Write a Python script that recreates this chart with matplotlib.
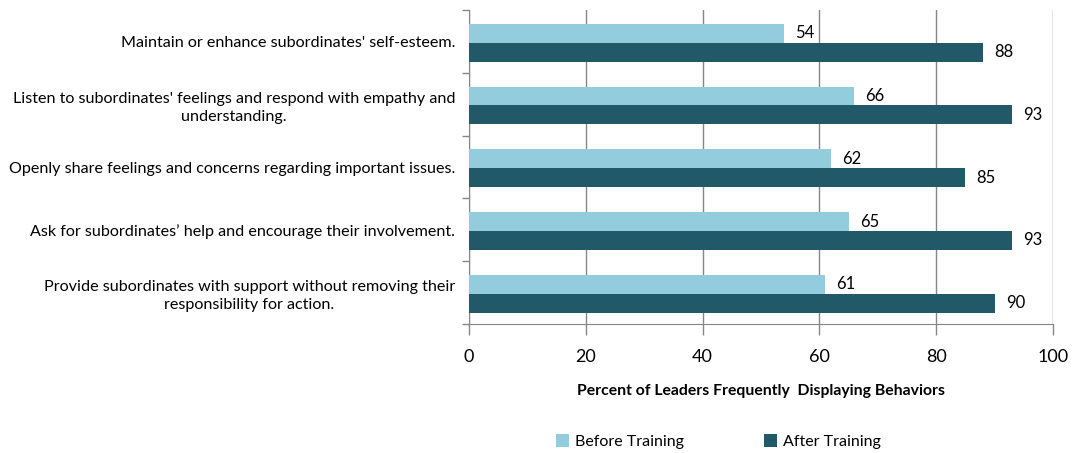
import numpy as np
import matplotlib.pyplot as plt

plt.rcParams['font.family'] = ['Lato', 'DejaVu Sans']

categorias = [
    "Maintain or enhance subordinates' self-esteem.",
    "Listen to subordinates' feelings and respond with empathy and\nunderstanding.",
    "Openly share feelings and concerns regarding important issues.",
    "Ask for subordinates\u2019 help and encourage their involvement.",
    "Provide subordinates with support without removing their\nresponsibility for action.",
]
antes = [54, 66, 62, 65, 61]
despues = [88, 93, 85, 93, 90]
series = ['Before Training', 'After Training']

col_antes = '#93CDDD'
col_despues = '#215968'
col_gris = '#868686'

fig = plt.figure(figsize=(10.82, 4.53), dpi=100)
ax = fig.add_axes([0.4335, 0.2848, 0.5397, 0.693])

y = np.arange(len(categorias))
h = 0.3
b1 = ax.barh(y - h / 2 + 0.02, antes, height=h, color=col_antes, label=series[0], zorder=3)
b2 = ax.barh(y + h / 2 + 0.02, despues, height=h, color=col_despues, label=series[1], zorder=3)

for barras in (b1, b2):
    for bar in barras:
        v = bar.get_width()
        ax.annotate(f'{v:.0f}', (v, bar.get_y() + bar.get_height() / 2),
                    xytext=(8, 0), textcoords='offset points',
                    va='center', ha='left', fontsize=12, color='#000000')

ax.set_xlim(0, 100)
ax.set_ylim(len(categorias) - 0.5, -0.5)
ax.set_xticks([0, 20, 40, 60, 80, 100])
ax.grid(axis='x', color=col_gris, linewidth=1, zorder=0)
ax.set_yticks(y)
ax.set_yticklabels(categorias, fontsize=11.6, ha='right', multialignment='center',
                   linespacing=1.35)
ax.tick_params(axis='y', length=0, pad=10)
ax.set_yticks(np.arange(-0.5, len(categorias)), minor=True)
ax.tick_params(axis='y', which='minor', length=5, color=col_gris, width=1)
ax.tick_params(axis='x', length=8, color=col_gris, width=1, labelsize=13, pad=10)

for lado in ('top', 'right'):
    ax.spines[lado].set_visible(False)
for lado in ('left', 'bottom'):
    ax.spines[lado].set_color(col_gris)

ax.set_xlabel('Percent of Leaders Frequently  Displaying Behaviors',
              fontsize=11.3, fontweight='bold', labelpad=14)

fig.legend(handles=[b1, b2], labels=series, loc='center',
           bbox_to_anchor=(0.664, 0.025), ncol=2, frameon=False, fontsize=11.5,
           handlelength=0.8, handleheight=0.8, handletextpad=0.4,
           columnspacing=5)

fig.savefig('out.png', dpi=100)
